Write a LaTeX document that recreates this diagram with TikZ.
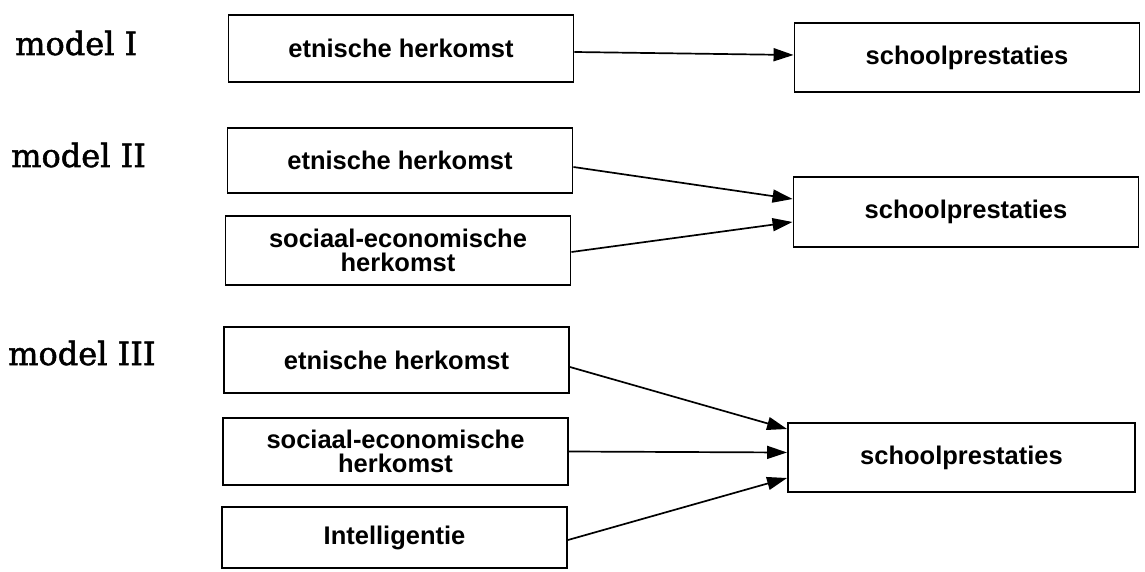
\documentclass[tikz,border=0pt]{standalone}
\usepackage{fontspec}
\setmainfont{Liberation Sans}
\newfontfamily\labelfont{DejaVu Serif}[FakeBold=1.6]
\usetikzlibrary{arrows.meta}
\begin{document}
\begin{tikzpicture}[x=1pt,y=-1pt,
  box/.style={draw, line width=1.9pt, inner sep=0pt, align=center,
    font=\fontsize{25.5}{23.5}\selectfont\bfseries},
  lbox/.style={box, minimum width=345pt, minimum height=67pt},
  rbox/.style={box, minimum width=345pt, minimum height=69pt},
  model/.style={anchor=base west, inner sep=0pt,
    font=\labelfont\fontsize{32}{36}\selectfont},
  link/.style={line width=1.7pt, -{Triangle[length=20pt,width=13pt]}}
]
\useasboundingbox (0,0) rectangle (1145,572);

% model labels
\node[model] (m1) at (15,55) {model I};
\node[model] (m2) at (11,167) {model II};
\node[model] (m3) at (8,365) {model III};

% model I
\node[lbox] (e1) at (401,48.5) {etnische herkomst};
\node[rbox] (s1) at (967,57.5) {schoolprestaties};
\draw[link] ([yshift=-3.5pt]e1.east) -- ([yshift=2.5pt]s1.west);

% model II
\node[lbox, minimum height=65pt] (e2) at (400,160.5) {etnische herkomst};
\node[lbox, minimum height=69pt] (se2) at (398,250.5) {sociaal-economische\\herkomst};
\node[rbox, minimum height=70pt] (s2) at (966,212) {schoolprestaties};
\draw[link] ([yshift=-6.5pt]e2.east) -- ([yshift=13pt]s2.west);
\draw[link] ([yshift=-1.5pt]se2.east) -- ([yshift=-10pt]s2.west);

% model III
\node[lbox, minimum height=66pt] (e3) at (396.5,360) {etnische herkomst};
\node[lbox] (se3) at (395.5,451.5) {sociaal-economische\\herkomst};
\node[lbox, minimum height=61pt] (i3) at (394.5,537.5) {Intelligentie};
\node[rbox, minimum width=347pt] (s3) at (961.5,457.5) {schoolprestaties};
\draw[link] ([yshift=-7pt]e3.east) -- ([yshift=28.5pt]s3.west);
\draw[link] (se3.east) -- ([yshift=5pt]s3.west);
\draw[link] ([yshift=-2.5pt]i3.east) -- ([yshift=-20.5pt]s3.west);
\end{tikzpicture}
\end{document}
